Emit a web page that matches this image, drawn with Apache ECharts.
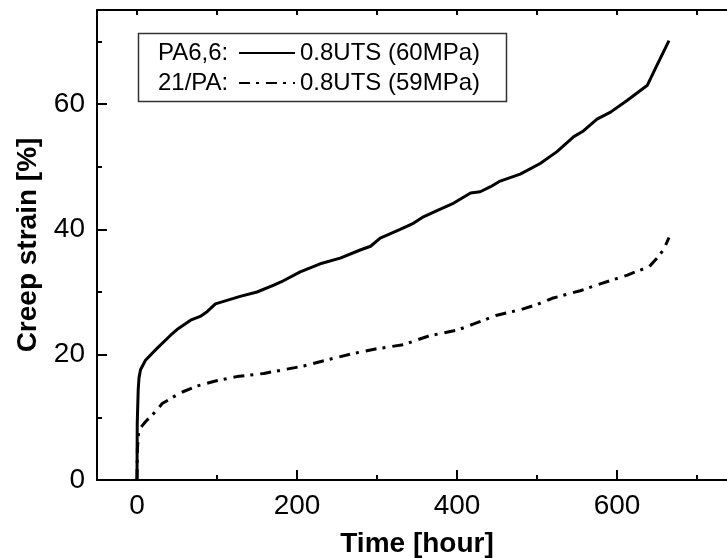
<!DOCTYPE html>
<html>
<head>
<meta charset="utf-8">
<script src="https://cdn.jsdelivr.net/npm/echarts@6/dist/echarts.min.js"></script>
<style>
html,body{margin:0;padding:0;background:#fff;}
#c{width:727px;height:558px;}
</style>
</head>
<body>
<div id="c"></div>
<script>
// ---- data ----
const seriesNames = ['0.8UTS (60MPa)', '0.8UTS (59MPa)'];
const materialNames = ['PA6,6:', '21/PA:'];
const xMajorTicks = [0, 200, 400, 600];
const xMinorTicks = [100, 300, 500, 700];
const yMajorTicks = [0, 20, 40, 60];
const yMinorTicks = [10, 30, 50, 70];

const timePA66 = [0, 0.3, 1.5, 2.5, 4.4, 10.6, 25, 42, 50, 67, 79, 88, 98, 129, 150, 171, 180, 204, 229, 254, 279, 292, 304, 329, 346, 358, 375, 396, 417, 429, 442, 454, 479, 504, 525, 546, 558, 575, 592, 613, 638, 650, 665];
const strainPA66 = [0, 9, 14.4, 16.3, 17.6, 19.1, 21.0, 23.1, 24.0, 25.5, 26.1, 26.9, 28.1, 29.3, 30.0, 31.1, 31.6, 33.2, 34.5, 35.4, 36.7, 37.3, 38.6, 40.0, 41.0, 42.0, 43.0, 44.2, 45.8, 46.0, 46.8, 47.7, 48.8, 50.5, 52.4, 54.8, 55.7, 57.6, 58.7, 60.6, 63.0, 66.2, 70.1];

const time21PA = [0, 0.5, 2.3, 10.6, 23, 31.5, 54, 75, 98, 125, 158.5, 175, 208.5, 242, 267, 298, 333, 365, 400, 421, 450, 480, 500, 519, 554, 579, 613, 629, 640, 650, 658.5, 665];
const strain21PA = [0, 5, 8.0, 9.3, 10.9, 12.2, 13.9, 15.0, 15.8, 16.5, 17.0, 17.4, 18.2, 19.3, 20.1, 20.9, 21.6, 23.0, 23.9, 24.9, 26.3, 27.2, 28.0, 29.0, 30.2, 31.3, 32.7, 33.5, 34.0, 35.4, 36.8, 38.7];

function pairs(xs, ys) { return xs.map((x, i) => [x, ys[i]]); }

const FONT = 'Liberation Sans, Arial, sans-serif';
const chart = echarts.init(document.getElementById('c'), null, {renderer: 'canvas'});

const baseX = {type: 'value', min: -50, max: 750, splitLine: {show: false}};
const baseY = {type: 'value', min: 0, max: 75, splitLine: {show: false}};

chart.setOption({
  animation: false,
  backgroundColor: '#fff',
  grid: {left: 97, top: 10, right: -10, bottom: 78, containLabel: false, outerBoundsMode: 'none'},
  xAxis: [
    Object.assign({}, baseX, {
      position: 'bottom',
      axisLine: {show: true, onZero: false, lineStyle: {color: '#000', width: 2}},
      axisTick: {show: false},
      axisLabel: {show: true, customValues: xMajorTicks, fontSize: 28, color: '#000', fontFamily: FONT, margin: 12},
      name: 'Time [hour]', nameLocation: 'middle', nameGap: 50,
      nameTextStyle: {fontSize: 28, fontWeight: 'bold', color: '#000', fontFamily: FONT}
    }),
    Object.assign({}, baseX, {
      position: 'bottom',
      axisLine: {show: false, onZero: false},
      axisTick: {show: true, inside: true, length: 10, customValues: xMajorTicks, lineStyle: {color: '#000', width: 2}},
      axisLabel: {show: false}
    }),
    Object.assign({}, baseX, {
      position: 'bottom',
      axisLine: {show: false, onZero: false},
      axisTick: {show: true, inside: true, length: 5, customValues: xMinorTicks, lineStyle: {color: '#000', width: 2}},
      axisLabel: {show: false}
    }),
    Object.assign({}, baseX, {
      position: 'top',
      axisLine: {show: true, onZero: false, lineStyle: {color: '#000', width: 2}},
      axisTick: {show: true, inside: true, length: 5, customValues: xMajorTicks.concat(xMinorTicks), lineStyle: {color: '#000', width: 2}},
      axisLabel: {show: false}
    })
  ],
  yAxis: [
    Object.assign({}, baseY, {
      position: 'left',
      axisLine: {show: true, onZero: false, lineStyle: {color: '#000', width: 2}},
      axisTick: {show: false},
      axisLabel: {show: true, customValues: yMajorTicks, fontSize: 28, color: '#000', fontFamily: FONT, margin: 12},
      name: 'Creep strain [%]', nameLocation: 'middle', nameGap: 55,
      nameTextStyle: {fontSize: 28, fontWeight: 'bold', color: '#000', fontFamily: FONT}
    }),
    Object.assign({}, baseY, {
      position: 'left',
      axisLine: {show: false, onZero: false},
      axisTick: {show: true, inside: true, length: 10, customValues: yMajorTicks, lineStyle: {color: '#000', width: 2}},
      axisLabel: {show: false}
    }),
    Object.assign({}, baseY, {
      position: 'left',
      axisLine: {show: false, onZero: false},
      axisTick: {show: true, inside: true, length: 5, customValues: yMinorTicks, lineStyle: {color: '#000', width: 2}},
      axisLabel: {show: false}
    })
  ],
  legend: {
    orient: 'vertical',
    left: 238, top: 41,
    padding: 0,
    itemGap: 6,
    itemWidth: 56, itemHeight: 14,
    itemStyle: {opacity: 0},
    textStyle: {fontSize: 24, color: '#000', fontFamily: FONT, lineHeight: 24},
    data: seriesNames
  },
  graphic: [
    {type: 'rect', left: 136, top: 31, shape: {width: 368, height: 68},
     style: {fill: 'none', stroke: '#333', lineWidth: 1.5}, z: 10},
    {type: 'text', left: 158, top: 41, style: {text: materialNames[0], fontSize: 24, fill: '#000', fontFamily: FONT}, z: 10},
    {type: 'text', left: 158, top: 71, style: {text: materialNames[1], fontSize: 24, fill: '#000', fontFamily: FONT}, z: 10}
  ],
  series: [
    {
      name: seriesNames[0], type: 'line', xAxisIndex: 0, yAxisIndex: 0,
      data: pairs(timePA66, strainPA66), symbol: 'none', smooth: false,
      lineStyle: {color: '#000', width: 3, type: 'solid'}, itemStyle: {color: '#000'}
    },
    {
      name: seriesNames[1], type: 'line', xAxisIndex: 0, yAxisIndex: 0,
      data: pairs(time21PA, strain21PA), symbol: 'none', smooth: false,
      lineStyle: {color: '#000', width: 3, type: [11, 6, 3, 7]}, itemStyle: {color: '#000'}
    }
  ]
});
</script>
</body>
</html>
